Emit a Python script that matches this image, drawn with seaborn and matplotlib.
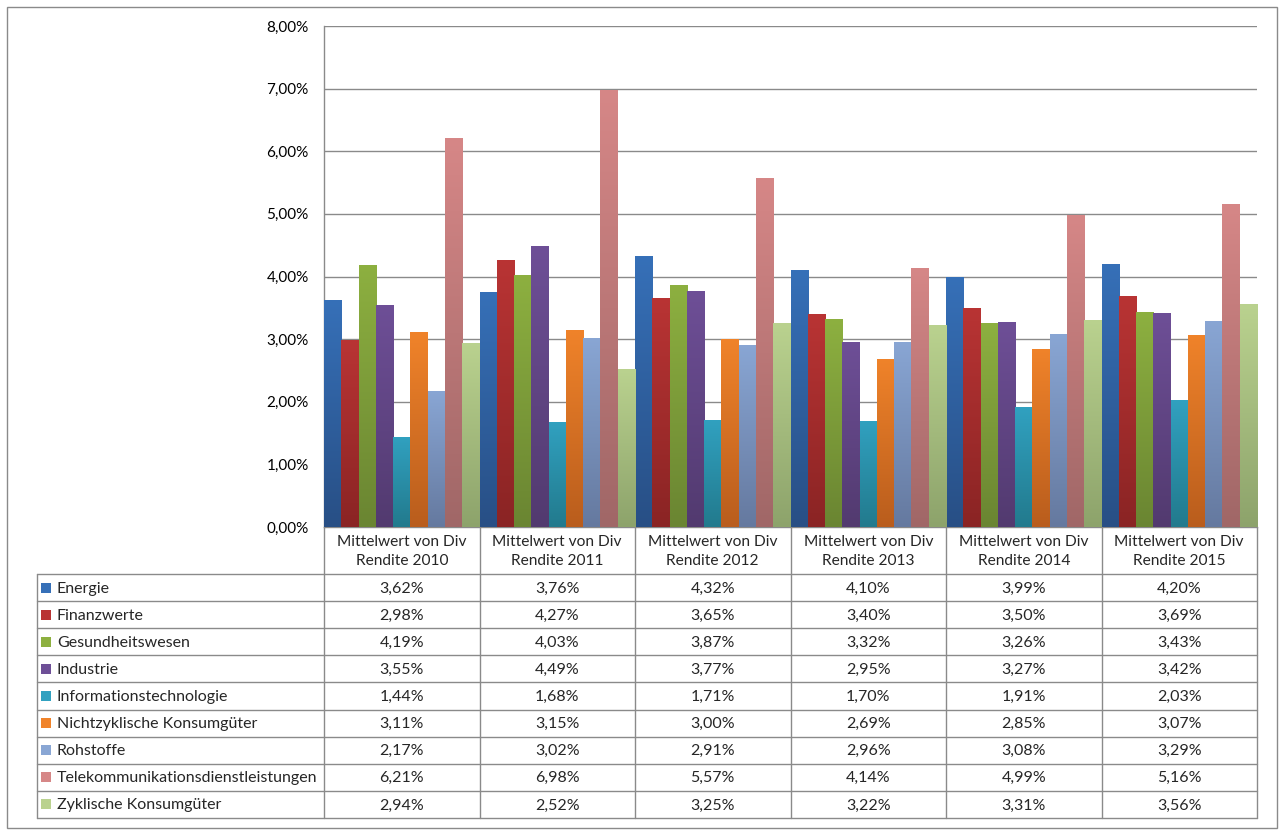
import numpy as np
import pandas as pd
import matplotlib
matplotlib.use("Agg")
import matplotlib.pyplot as plt
import matplotlib.transforms as mtransforms
import seaborn as sns
from matplotlib.colors import LinearSegmentedColormap
from matplotlib.patches import Rectangle
from matplotlib.ticker import FuncFormatter, MultipleLocator

# Daten (Mittelwert der Dividendenrendite in %)
jahre = ["Mittelwert von Div\nRendite 2010", "Mittelwert von Div\nRendite 2011",
         "Mittelwert von Div\nRendite 2012", "Mittelwert von Div\nRendite 2013",
         "Mittelwert von Div\nRendite 2014", "Mittelwert von Div\nRendite 2015"]
sektoren = ["Energie", "Finanzwerte", "Gesundheitswesen", "Industrie",
            "Informationstechnologie", "Nichtzyklische Konsumgüter", "Rohstoffe",
            "Telekommunikationsdienstleistungen", "Zyklische Konsumgüter"]

energie = [3.62, 3.76, 4.32, 4.10, 3.99, 4.20]
finanzwerte = [2.98, 4.27, 3.65, 3.40, 3.50, 3.69]
gesundheitswesen = [4.19, 4.03, 3.87, 3.32, 3.26, 3.43]
industrie = [3.55, 4.49, 3.77, 2.95, 3.27, 3.42]
informationstechnologie = [1.44, 1.68, 1.71, 1.70, 1.91, 2.03]
nichtzyklische = [3.11, 3.15, 3.00, 2.69, 2.85, 3.07]
rohstoffe = [2.17, 3.02, 2.91, 2.96, 3.08, 3.29]
telekom = [6.21, 6.98, 5.57, 4.14, 4.99, 5.16]
zyklische = [2.94, 2.52, 3.25, 3.22, 3.31, 3.56]

werte = [energie, finanzwerte, gesundheitswesen, industrie, informationstechnologie,
         nichtzyklische, rohstoffe, telekom, zyklische]

# Farben: oben hell, unten dunkel (Excel-Verlauf)
farben_oben = ["#3670b8", "#b93434", "#8db040", "#6e4f97", "#31a1c0",
               "#f0832a", "#89a6d4", "#d68787", "#bad28f"]
farben_unten = ["#284f85", "#8a2424", "#6a8532", "#523a6f", "#227a8d",
                "#b95d1d", "#65799f", "#a06767", "#8da36b"]

df = pd.DataFrame([
    {"jahr": jahre[j], "sektor": sektoren[i], "wert": werte[i][j]}
    for i in range(len(sektoren)) for j in range(len(jahre))
])

sns.set_style("white")
plt.rcParams["font.family"] = ["Lato", "DejaVu Sans"]
FS = 11.5
GRAU = "#8a8a8a"

W, H = 1283, 834
fig = plt.figure(figsize=(W / 100, H / 100), dpi=100)

# Overlay in Pixelkoordinaten fuer Rahmen und Tabelle
ov = fig.add_axes([0, 0, 1, 1])
ov.set_xlim(0, W)
ov.set_ylim(H, 0)
ov.axis("off")

left, right, top, bottom = 324, 1257, 26, 527
ax = fig.add_axes([left / W, 1 - bottom / H, (right - left) / W, (bottom - top) / H])
ax.patch.set_alpha(0)

sns.barplot(data=df, x="jahr", y="wert", hue="sektor", order=jahre, hue_order=sektoren,
            palette=farben_oben, width=1.0, gap=0, saturation=1, linewidth=0,
            edgecolor="none", legend=False, ax=ax, zorder=3)

grad = np.linspace(0, 1, 256).reshape(-1, 1)
for i, cont in enumerate(ax.containers):
    cmap = LinearSegmentedColormap.from_list(f"g{i}", [farben_unten[i], farben_oben[i]])
    for p in cont.patches:
        x0, w, h = p.get_x(), p.get_width(), p.get_height()
        im = ax.imshow(grad, cmap=cmap, origin="lower", aspect="auto",
                       extent=[x0, x0 + w, 0, h], zorder=4, interpolation="bilinear")
        im.set_clip_path(p)

ax.set_xlim(-0.5, len(jahre) - 0.5)
ax.set_ylim(0, 8)
ax.yaxis.set_major_locator(MultipleLocator(1))
ax.yaxis.set_major_formatter(FuncFormatter(lambda v, _: f"{v:.2f}%".replace(".", ",")))
ax.grid(axis="y", color=GRAU, linewidth=1.0, zorder=0)
ax.set_axisbelow(True)
ax.tick_params(axis="y", length=0, pad=11, labelsize=11, labelcolor="black")
ax.tick_params(axis="x", length=0, labelbottom=False)
ax.set_xlabel("")
ax.set_ylabel("")
for s in ["top", "right"]:
    ax.spines[s].set_visible(False)
for s in ["left", "bottom"]:
    ax.spines[s].set_color(GRAU)
    ax.spines[s].set_linewidth(1.0)

# Aeusserer Rahmen
ov.add_patch(Rectangle((7, 7), 1270, 821, fill=False, edgecolor=GRAU, linewidth=1.0))

# Datentabelle
trans = mtransforms.blended_transform_factory(ax.transData, ov.transData)
kopf_unten = 574
tab_unten = 818
zeile_h = (tab_unten - kopf_unten) / len(sektoren)

for k in range(len(jahre) + 1):
    ov.plot([k - 0.5, k - 0.5], [bottom, tab_unten], transform=trans, color=GRAU,
            linewidth=1.0, clip_on=False)
ov.plot([37, 37], [kopf_unten, tab_unten], color=GRAU, linewidth=1.0)
for r in range(len(sektoren) + 1):
    y = kopf_unten + r * zeile_h
    ov.plot([37, right], [y, y], color=GRAU, linewidth=1.0)

for j, jahr in enumerate(jahre):
    ov.text(j, (bottom + kopf_unten) / 2 + 1, jahr, transform=trans, ha="center",
            va="center", fontsize=11.2, linespacing=1.4)

for i, sektor in enumerate(sektoren):
    yc = kopf_unten + (i + 0.5) * zeile_h
    ov.add_patch(Rectangle((41, yc - 5), 10, 10, facecolor=farben_oben[i], edgecolor="none"))
    ov.text(57, yc + 1, sektor, ha="left", va="center", fontsize=FS)
    for j in range(len(jahre)):
        ov.text(j, yc + 1, f"{werte[i][j]:.2f}%".replace(".", ","), transform=trans,
                ha="center", va="center", fontsize=FS)

fig.savefig("out.png", dpi=100)
